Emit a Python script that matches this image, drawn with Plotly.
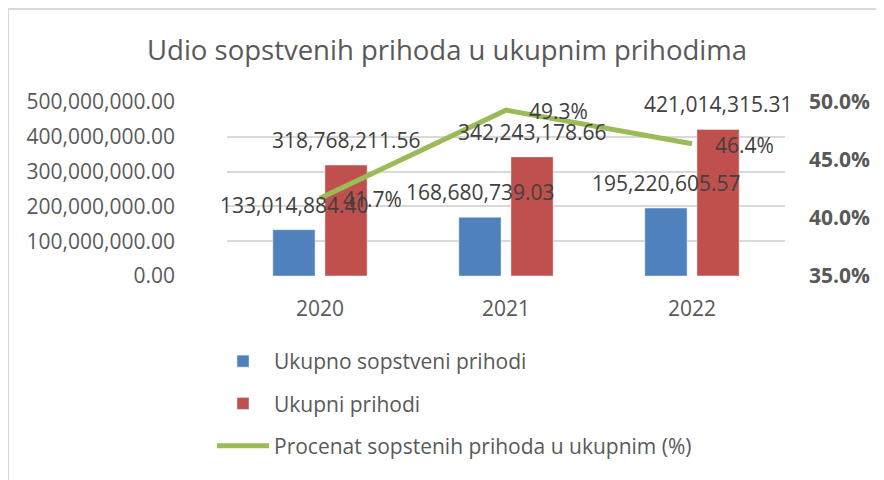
import plotly.graph_objects as go

years = ["2020", "2021", "2022"]
own_revenue = [133014884.40, 168680739.03, 195220605.57]
total_revenue = [318768211.56, 342243178.66, 421014315.31]
own_share_pct = [41.7, 49.3, 46.4]

name_own = "Ukupno sopstveni prihodi"
name_total = "Ukupni prihodi"
name_pct = "Procenat sopstenih prihoda u ukupnim (%)"
title_text = "Udio sopstvenih prihoda u ukupnim prihodima"

FONT = "Open Sans, Lato, DejaVu Sans, sans-serif"
BLUE = "#4F81BD"
RED = "#C0504D"
GREEN = "#9BBB59"
AXIS_TXT = "#595959"
LABEL_TXT = "#404040"

# page body has an 8px margin, so the figure is drawn 8px in from the window edge
OFF = 8
W, H = 884 - OFF, 480 - OFF
L, T = 227 - OFF, 102 - OFF
R = W - (785 - OFF)
B = H - (276 - OFF)
PW, PH = W - L - R, H - T - B


def px_to_paper(x, y):
    """reference-window pixel -> paper coords"""
    return (x - OFF - L) / PW, (H - B - (y - OFF)) / PH


fig = go.Figure()
fig.add_trace(go.Bar(x=years, y=own_revenue, name=name_own, marker_color=BLUE,
                     legendgroup="a", yaxis="y"))
fig.add_trace(go.Bar(x=years, y=total_revenue, name=name_total, marker_color=RED,
                     legendgroup="b", yaxis="y"))
fig.add_trace(go.Scatter(x=years, y=own_share_pct, name=name_pct, mode="lines",
                         line=dict(color=GREEN, width=5), legendgroup="c", yaxis="y2"))

LBL = dict(family=FONT, size=21, color=LABEL_TXT)
annotations = []
for i, v in enumerate(own_revenue):
    annotations.append(dict(x=i, y=v, xref="x", yref="y", text=f"{v:,.2f}",
                            showarrow=False, xshift=-26, yshift=25, yanchor="middle",
                            font=LBL))
for i, v in enumerate(total_revenue):
    annotations.append(dict(x=i, y=v, xref="x", yref="y", text=f"{v:,.2f}",
                            showarrow=False, xshift=26, yshift=25, yanchor="middle",
                            font=LBL))
for i, v in enumerate(own_share_pct):
    annotations.append(dict(x=i, y=v, xref="x", yref="y2", text=f"{v:.1f}%",
                            showarrow=False, xanchor="left", xshift=21, yshift=-1,
                            yanchor="middle", font=LBL))

fx0, fy0 = px_to_paper(8, 9)
fx1, fy1 = px_to_paper(884 + 10, 480 + 10)

fig.update_layout(
    width=W, height=H,
    margin=dict(l=L, r=R, t=T, b=B, autoexpand=False),
    paper_bgcolor="white", plot_bgcolor="white",
    font=dict(family=FONT, color=AXIS_TXT, size=21),
    title=dict(text=title_text, x=(447 - OFF) / W, xanchor="center",
               y=1 - (50 - OFF) / H, yanchor="middle", yref="container",
               font=dict(family=FONT, size=27.5, color=AXIS_TXT)),
    barmode="group", bargap=0.44, bargroupgap=0.19,
    xaxis=dict(type="category", range=[-0.5, 2.5], showgrid=False, zeroline=False,
               showline=False, ticks="", ticklabelstandoff=18,
               tickfont=dict(family=FONT, size=21, color=AXIS_TXT)),
    yaxis=dict(range=[0, 500000000], dtick=100000000, tickformat=",.2f",
               showgrid=True, gridcolor="#D9D9D9", gridwidth=1.5, zeroline=False,
               showline=False, ticks="", ticklabelstandoff=51,
               tickfont=dict(family=FONT, size=21, color=AXIS_TXT)),
    yaxis2=dict(range=[35, 50], dtick=5, tickformat=".1f", ticksuffix="%",
                overlaying="y", side="right", showgrid=False, zeroline=False,
                showline=False, ticks="", ticklabelstandoff=23,
                tickfont=dict(family=FONT, size=21, color=AXIS_TXT, weight="bold")),
    legend=dict(orientation="v", x=px_to_paper(212, 0)[0], xanchor="left",
                y=px_to_paper(0, 341)[1], yanchor="top", tracegroupgap=12,
                itemwidth=52, traceorder="grouped",
                font=dict(family=FONT, size=21, color=AXIS_TXT),
                bgcolor="rgba(0,0,0,0)"),
    annotations=annotations,
    shapes=[dict(type="rect", xref="paper", yref="paper", x0=fx0, y0=fy0, x1=fx1, y1=fy1,
                 line=dict(color="#D9D9D9", width=2), fillcolor="rgba(0,0,0,0)",
                 layer="below")],
    showlegend=True,
)

fig.write_html("out.html")
